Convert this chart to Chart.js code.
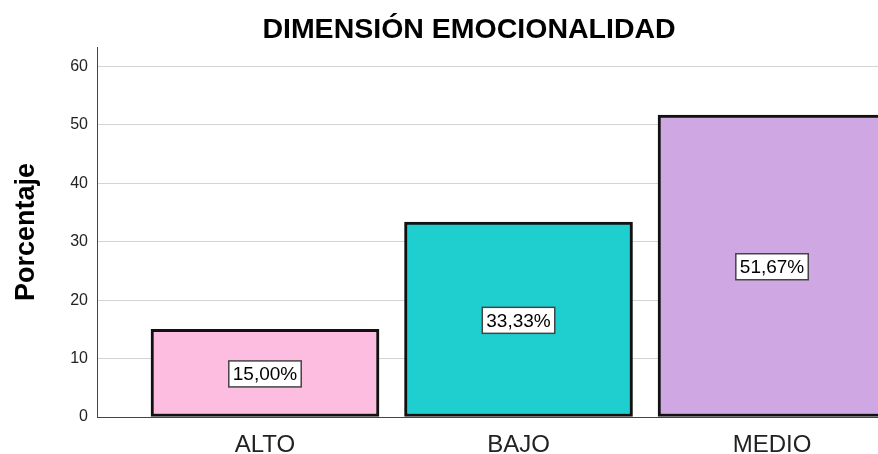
<!DOCTYPE html>
<html>
<head>
<meta charset="utf-8">
<script src="https://cdn.jsdelivr.net/npm/chart.js@4.4.1/dist/chart.umd.min.js"></script>
<style>
html, body { margin: 0; padding: 0; background: #fff; }
</style>
</head>
<body>
<canvas id="myChart" width="878" height="454"></canvas>
<script>
var chartTitle = 'DIMENSIÓN EMOCIONALIDAD';
var axisTitle = 'Porcentaje';
var categorias = ['ALTO', 'BAJO', 'MEDIO'];
var porcentajes = [15.00, 33.33, 51.67];
var colores = ['#fdbde0', '#1fcfcf', '#cfa8e3'];
var yTicks = [0, 10, 20, 30, 40, 50, 60];

// title is centred on the original (uncropped) SPSS chart, not on the canvas
var titlePlugin = {
    id: 'tituloSpss',
    afterDraw: function(chart){
        var ctx = chart.ctx;
        ctx.save();
        ctx.font = 'bold 28.5px "Liberation Sans", Arial, sans-serif';
        ctx.fillStyle = '#000';
        ctx.textAlign = 'center';
        ctx.textBaseline = 'alphabetic';
        ctx.fillText(chartTitle, 469, 38);
        ctx.restore();
    }
};

// white boxed value labels in the middle of each bar
var etiquetasPlugin = {
    id: 'etiquetas',
    afterDatasetsDraw: function(chart){
        var ctx = chart.ctx;
        var meta = chart.getDatasetMeta(0);
        ctx.save();
        ctx.font = '19px "Liberation Sans", Arial, sans-serif';
        ctx.textAlign = 'center';
        ctx.textBaseline = 'middle';
        meta.data.forEach(function(bar, i){
            var txt = porcentajes[i].toFixed(2).replace('.', ',') + '%';
            var w = ctx.measureText(txt).width + 8;
            var h = 26;
            var cx = bar.x;
            var cy = (bar.y + bar.base) / 2 + 1;
            ctx.fillStyle = '#fff';
            ctx.fillRect(cx - w / 2, cy - h / 2, w, h);
            ctx.strokeStyle = '#444';
            ctx.lineWidth = 1.5;
            ctx.strokeRect(cx - w / 2, cy - h / 2, w, h);
            ctx.fillStyle = '#000';
            ctx.fillText(txt, cx, cy + 1);
        });
        ctx.restore();
    }
};

var ctx = document.getElementById('myChart').getContext('2d');
var myBarChart = new Chart(ctx, {
    type: 'bar',
    data: {
        datasets: [{
            data: categorias.map(function(c, i){ return {x: i, y: porcentajes[i]}; }),
            backgroundColor: colores,
            borderColor: '#111',
            borderWidth: 3,
            borderSkipped: false,
            barThickness: 228
        }]
    },
    options: {
        responsive: false,
        animation: false,
        layout: { padding: { top: 47, left: 0, right: 0, bottom: 0 } },
        plugins: {
            legend: { display: false },
            tooltip: { enabled: false },
            title: { display: false }
        },
        scales: {
            x: {
                type: 'linear',
                offset: false,
                min: -0.6627,
                max: 2.418,
                afterBuildTicks: function(scale){
                    scale.ticks = categorias.map(function(c, i){ return {value: i}; });
                },
                afterFit: function(scale){ scale.height = 37; },
                ticks: {
                    callback: function(v){ return categorias[v]; },
                    font: { family: '"Liberation Sans", Arial, sans-serif', size: 24 },
                    color: '#222',
                    padding: 6,
                    maxRotation: 0
                },
                grid: { display: false, offset: false },
                border: { display: true, color: '#444', width: 1 }
            },
            y: {
                min: 0,
                max: 63.3,
                afterBuildTicks: function(scale){
                    scale.ticks = yTicks.map(function(v){ return {value: v}; });
                },
                afterFit: function(scale){ scale.width = 97; },
                ticks: {
                    font: { family: '"Liberation Sans", Arial, sans-serif', size: 16 },
                    color: '#222',
                    padding: 9
                },
                grid: { color: '#d4d4d4', lineWidth: 1, drawTicks: false },
                border: { display: true, color: '#444', width: 1 },
                title: {
                    display: true,
                    text: axisTitle,
                    color: '#000',
                    font: { family: '"Liberation Sans", Arial, sans-serif', size: 27, weight: 'bold' },
                    padding: { top: 10, bottom: 0 }
                }
            }
        }
    },
    plugins: [titlePlugin, etiquetasPlugin]
});
</script>
</body>
</html>
